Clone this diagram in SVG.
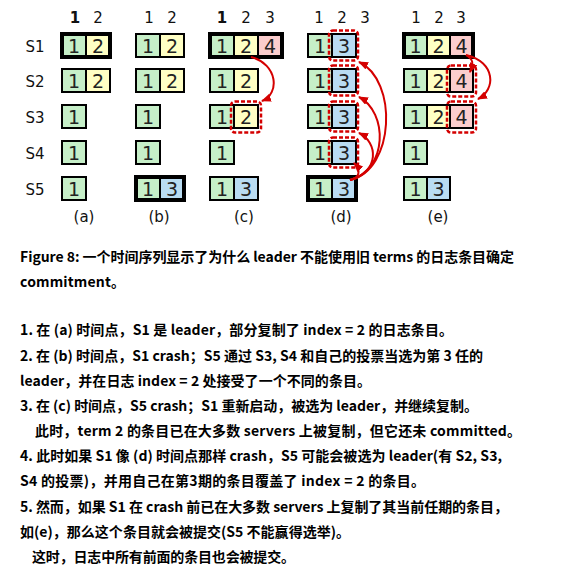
<svg xmlns="http://www.w3.org/2000/svg" width="565" height="578" viewBox="0 0 565 578">
<defs>
<style>
.c{stroke:#000;stroke-width:2}
.g{fill:#c6efc8}.y{fill:#ffffc4}.p{fill:#fbcdcd}.b{fill:#b9dcf2}
.ld{fill:none;stroke:#000;stroke-width:4}
.dash{fill:none;stroke:#d40000;stroke-width:2.5;stroke-dasharray:4 2}
.n{font-family:"DejaVu Sans",sans-serif;font-size:19px;fill:#222;text-anchor:middle}
.h{font-family:"DejaVu Sans",sans-serif;font-size:15px;fill:#111;text-anchor:middle}
.t{font-family:"Noto Sans CJK SC",sans-serif;font-size:14px;font-weight:bold;fill:#000}
.arr{fill:none;stroke:#d40000;stroke-width:2;marker-end:url(#ah)}
</style>
<marker id="ah" markerWidth="10" markerHeight="8" refX="9" refY="4" orient="auto" markerUnits="userSpaceOnUse">
<path d="M0,0 L10,4 L0,8 Z" fill="#d40000"/>
</marker>
</defs>
<rect width="565" height="578" fill="#fff"/>

<g id="labels">
<text class="h" x="35" y="52">S1</text>
<text class="h" x="35" y="87">S2</text>
<text class="h" x="35" y="123">S3</text>
<text class="h" x="35" y="159">S4</text>
<text class="h" x="35" y="195">S5</text>
</g>

<g id="col-a">
<text class="h" x="75" y="23" font-weight="bold">1</text><text class="h" x="98" y="23">2</text>
<rect class="c g" x="62" y="34" width="24" height="23"/><rect class="c y" x="86" y="34" width="24" height="23"/><rect class="ld" x="62" y="34" width="48" height="23"/>
<text class="n" x="74" y="52.5">1</text><text class="n" x="98" y="52.5">2</text>
<rect class="c g" x="62" y="69" width="24" height="23"/><rect class="c y" x="86" y="69" width="24" height="23"/>
<text class="n" x="74" y="87.5">1</text><text class="n" x="98" y="87.5">2</text>
<rect class="c g" x="62" y="105" width="24" height="23"/><text class="n" x="74" y="123.5">1</text>
<rect class="c g" x="62" y="141" width="24" height="23"/><text class="n" x="74" y="159.5">1</text>
<rect class="c g" x="62" y="177" width="24" height="23"/><text class="n" x="74" y="195.5">1</text>
<text class="h" x="84" y="222">(a)</text>
</g>

<g id="col-b">
<text class="h" x="149" y="23">1</text><text class="h" x="172" y="23">2</text>
<rect class="c g" x="136" y="34" width="24" height="23"/><rect class="c y" x="160" y="34" width="24" height="23"/>
<text class="n" x="148" y="52.5">1</text><text class="n" x="172" y="52.5">2</text>
<rect class="c g" x="136" y="69" width="24" height="23"/><rect class="c y" x="160" y="69" width="24" height="23"/>
<text class="n" x="148" y="87.5">1</text><text class="n" x="172" y="87.5">2</text>
<rect class="c g" x="136" y="105" width="24" height="23"/><text class="n" x="148" y="123.5">1</text>
<rect class="c g" x="136" y="141" width="24" height="23"/><text class="n" x="148" y="159.5">1</text>
<rect class="c g" x="136" y="177" width="24" height="23"/><rect class="c b" x="160" y="177" width="24" height="23"/><rect class="ld" x="136" y="177" width="48" height="23"/>
<text class="n" x="148" y="195.5">1</text><text class="n" x="172" y="195.5">3</text>
<text class="h" x="159" y="222">(b)</text>
</g>

<g id="col-c">
<text class="h" x="222" y="23" font-weight="bold">1</text><text class="h" x="246" y="23">2</text><text class="h" x="270" y="23">3</text>
<rect class="c g" x="210" y="34" width="24" height="23"/><rect class="c y" x="234" y="34" width="24" height="23"/><rect class="c p" x="258" y="34" width="24" height="23"/><rect class="ld" x="210" y="34" width="72" height="23"/>
<text class="n" x="222" y="52.5">1</text><text class="n" x="246" y="52.5">2</text><text class="n" x="270" y="52.5">4</text>
<rect class="c g" x="210" y="69" width="24" height="23"/><rect class="c y" x="234" y="69" width="24" height="23"/>
<text class="n" x="222" y="87.5">1</text><text class="n" x="246" y="87.5">2</text>
<rect class="c g" x="210" y="105" width="24" height="23"/><rect class="c y" x="234" y="105" width="24" height="23"/>
<text class="n" x="222" y="123.5">1</text><text class="n" x="246" y="123.5">2</text>
<rect class="dash" x="231" y="101.5" width="30" height="31" rx="4"/>
<rect class="c g" x="210" y="141" width="24" height="23"/><text class="n" x="222" y="159.5">1</text>
<rect class="c g" x="210" y="177" width="24" height="23"/><rect class="c b" x="234" y="177" width="24" height="23"/>
<text class="n" x="222" y="195.5">1</text><text class="n" x="246" y="195.5">3</text>
<text class="h" x="244" y="222">(c)</text>
</g>

<g id="col-d">
<text class="h" x="319" y="23">1</text><text class="h" x="342" y="23">2</text><text class="h" x="365" y="23">3</text>
<rect class="c g" x="308" y="34" width="24" height="23"/><rect class="c b" x="332" y="34" width="24" height="23"/>
<text class="n" x="320" y="52.5">1</text><text class="n" x="344" y="52.5">3</text>
<rect class="dash" x="329" y="30.5" width="29" height="30" rx="4"/>
<rect class="c g" x="308" y="69" width="24" height="23"/><rect class="c b" x="332" y="69" width="24" height="23"/>
<text class="n" x="320" y="87.5">1</text><text class="n" x="344" y="87.5">3</text>
<rect class="dash" x="329" y="65.5" width="29" height="30" rx="4"/>
<rect class="c g" x="308" y="105" width="24" height="23"/><rect class="c b" x="332" y="105" width="24" height="23"/>
<text class="n" x="320" y="123.5">1</text><text class="n" x="344" y="123.5">3</text>
<rect class="dash" x="329" y="101.5" width="29" height="30" rx="4"/>
<rect class="c g" x="308" y="141" width="24" height="23"/><rect class="c b" x="332" y="141" width="24" height="23"/>
<text class="n" x="320" y="159.5">1</text><text class="n" x="344" y="159.5">3</text>
<rect class="dash" x="329" y="137.5" width="29" height="30" rx="4"/>
<rect class="c g" x="308" y="177" width="24" height="23"/><rect class="c b" x="332" y="177" width="24" height="23"/><rect class="ld" x="308" y="177" width="48" height="23"/>
<text class="n" x="320" y="195.5">1</text><text class="n" x="344" y="195.5">3</text>
<text class="h" x="341" y="222">(d)</text>
</g>

<g id="col-e">
<text class="h" x="416" y="23">1</text><text class="h" x="439" y="23">2</text><text class="h" x="461" y="23">3</text>
<rect class="c g" x="404" y="34" width="23" height="23"/><rect class="c y" x="427" y="34" width="23" height="23"/><rect class="c p" x="450" y="34" width="23" height="23"/><rect class="ld" x="404" y="34" width="69" height="23"/>
<text class="n" x="415.5" y="52.5">1</text><text class="n" x="438.5" y="52.5">2</text><text class="n" x="461.5" y="52.5">4</text>
<rect class="c g" x="404" y="69" width="23" height="23"/><rect class="c y" x="427" y="69" width="23" height="23"/><rect class="c p" x="450" y="69" width="23" height="23"/>
<text class="n" x="415.5" y="87.5">1</text><text class="n" x="438.5" y="87.5">2</text><text class="n" x="461.5" y="87.5">4</text>
<rect class="dash" x="447" y="65.5" width="29" height="31" rx="4"/>
<rect class="c g" x="404" y="105" width="23" height="23"/><rect class="c y" x="427" y="105" width="23" height="23"/><rect class="c p" x="450" y="105" width="23" height="23"/>
<text class="n" x="415.5" y="123.5">1</text><text class="n" x="438.5" y="123.5">2</text><text class="n" x="461.5" y="123.5">4</text>
<rect class="dash" x="447" y="101.5" width="29" height="31" rx="4"/>
<rect class="c g" x="404" y="141" width="23" height="23"/><text class="n" x="415.5" y="159.5">1</text>
<rect class="c g" x="404" y="177" width="23" height="23"/><rect class="c b" x="427" y="177" width="23" height="23"/>
<text class="n" x="415.5" y="195.5">1</text><text class="n" x="438.5" y="195.5">3</text>
<text class="h" x="438" y="222">(e)</text>
</g>

<g id="connectors">
<path class="arr" d="M251,57 C278,64 280,94 262,101"/>
<path class="arr" d="M350,180 C395,170 398,80 359,62"/>
<path class="arr" d="M350,180 C388,170 388,112 359,97"/>
<path class="arr" d="M350,180 C380,172 378,142 359,133"/>
<path class="arr" d="M350,180 C360,178 361,170 354,163"/>
<path class="arr" d="M466,55 C473,59 474,63 470,72"/>
<path class="arr" d="M466,55 C496,62 496,90 478,99"/>
</g>

<g id="caption">
<text class="t" x="20" y="262" textLength="494" lengthAdjust="spacing">Figure 8: 一个时间序列显示了为什么 leader 不能使用旧 terms 的日志条目确定</text>
<text class="t" x="20" y="287" textLength="105" lengthAdjust="spacing">commitment。</text>
<text class="t" x="20" y="335" textLength="433" lengthAdjust="spacing">1. 在 (a) 时间点，S1 是 leader，部分复制了 index = 2 的日志条目。</text>
<text class="t" x="20" y="361" textLength="463" lengthAdjust="spacing">2. 在 (b) 时间点，S1 crash；S5 通过 S3, S4 和自己的投票当选为第 3 任的</text>
<text class="t" x="20" y="386" textLength="351" lengthAdjust="spacing">leader，并在日志 index = 2 处接受了一个不同的条目。</text>
<text class="t" x="20" y="411" textLength="458" lengthAdjust="spacing">3. 在 (c) 时间点，S5 crash；S1 重新启动，被选为 leader，并继续复制。</text>
<text class="t" x="35" y="436" textLength="486" lengthAdjust="spacing">此时，term 2 的条目已在大多数 servers 上被复制，但它还未 committed。</text>
<text class="t" x="20" y="461" textLength="482" lengthAdjust="spacing">4. 此时如果 S1 像 (d) 时间点那样 crash，S5 可能会被选为 leader(有 S2, S3,</text>
<text class="t" x="20" y="486" textLength="405" lengthAdjust="spacing">S4 的投票)，并用自己在第3期的条目覆盖了 index = 2 的条目。</text>
<text class="t" x="20" y="512" textLength="488" lengthAdjust="spacing">5. 然而，如果 S1 在 crash 前已在大多数 servers 上复制了其当前任期的条目，</text>
<text class="t" x="20" y="537" textLength="330" lengthAdjust="spacing">如(e)，那么这个条目就会被提交(S5 不能赢得选举)。</text>
<text class="t" x="32" y="562" textLength="263" lengthAdjust="spacing">这时，日志中所有前面的条目也会被提交。</text>
</g>
</svg>
